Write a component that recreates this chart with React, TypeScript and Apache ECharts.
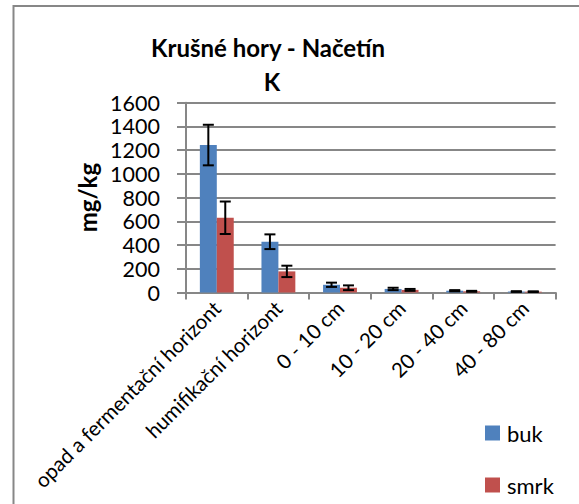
import React, { useEffect, useRef } from "react";
import * as echarts from "echarts";

const categories = [
  "opad a fermentační horizont",
  "humifikační horizont",
  "0 - 10 cm",
  "10 - 20 cm",
  "20 - 40 cm",
  "40 - 80 cm",
];
const bukValues = [1243, 428, 65, 30, 15, 8];
const bukErrors = [171, 62, 18, 10, 5, 3];
const smrkValues = [630, 178, 40, 22, 10, 7];
const smrkErrors = [137, 48, 20, 8, 4, 3];
const yTicks = { min: 0, max: 1600, interval: 200 };
const titleLines = ["Krušné hory - Načetín", "K"];
const yName = "mg/kg";

const FONT = "Lato";
const BLUE = "#4F81BD";
const RED = "#C0504D";
const GRID = "#878787";

const GAP = 0.45;
const barFrac = (1 - GAP) / 2;

function errSeries(name: string, values: number[], errors: number[], dir: number) {
  return {
    type: "custom",
    name: name + "-err",
    silent: true,
    z: 10,
    data: values.map((v, i) => [i, v - errors[i], v + errors[i]]),
    renderItem: (params: any, api: any) => {
      const x = api.value(0);
      const lo = api.coord([x, api.value(1)]);
      const hi = api.coord([x, api.value(2)]);
      const cw = api.size([1, 0])[0];
      const cx = lo[0] + dir * cw * barFrac / 2;
      const cap = 5.5;
      const st = { stroke: "#000", lineWidth: 2 };
      return {
        type: "group",
        children: [
          { type: "line", shape: { x1: cx, y1: lo[1], x2: cx, y2: hi[1] }, style: st },
          { type: "line", shape: { x1: cx - cap, y1: lo[1], x2: cx + cap, y2: lo[1] }, style: st },
          { type: "line", shape: { x1: cx - cap, y1: hi[1], x2: cx + cap, y2: hi[1] }, style: st },
        ],
      };
    },
  };
}

export default function App() {
  const ref = useRef<HTMLDivElement>(null);
  useEffect(() => {
    if (!ref.current) return;
    const chart = echarts.init(ref.current, null, { renderer: "svg" });
    chart.setOption({
      animation: false,
      backgroundColor: "#fff",
      textStyle: { fontFamily: FONT },
      graphic: [
        {
          type: "rect",
          shape: { x: 13.5, y: 6, width: 700, height: 700 },
          style: { fill: "none", stroke: GRID, lineWidth: 2 },
          silent: true,
        },
        {
          type: "text",
          x: 268,
          y: 47,
          style: {
            text: titleLines[0],
            font: `bold 24px ${FONT}`,
            fill: "#000",
            textAlign: "center",
            textVerticalAlign: "middle",
          },
        },
        {
          type: "text",
          x: 272,
          y: 81,
          style: {
            text: titleLines[1],
            font: `bold 24px ${FONT}`,
            fill: "#000",
            textAlign: "center",
            textVerticalAlign: "middle",
          },
        },
      ],
      legend: {
        orient: "vertical",
        left: 480,
        top: 417,
        itemWidth: 15,
        itemHeight: 15,
        itemGap: 30,
        icon: "rect",
        data: ["buk", "smrk"],
        textStyle: { fontFamily: FONT, fontSize: 22, color: "#000", padding: [0, 0, 0, 2] },
      },
      grid: { left: 186, right: 23.4, top: 102.7, bottom: 211.5, containLabel: false },
      xAxis: {
        type: "category",
        data: categories,
        axisLine: { lineStyle: { color: GRID, width: 2 } },
        axisTick: { show: true, length: 7, alignWithLabel: false, lineStyle: { color: GRID, width: 2 } },
        axisLabel: {
          interval: 0,
          rotate: 45,
          margin: 12,
          color: "#000",
          fontFamily: FONT,
          fontSize: 20.5,
        },
      },
      yAxis: {
        type: "value",
        min: yTicks.min,
        max: yTicks.max,
        interval: yTicks.interval,
        name: yName,
        nameLocation: "middle",
        nameRotate: 90,
        nameGap: 72,
        nameTextStyle: { fontFamily: FONT, fontWeight: "bold", fontSize: 24, color: "#000" },
        axisLine: { show: true, lineStyle: { color: GRID, width: 2 } },
        axisTick: { show: true, length: 9, lineStyle: { color: GRID, width: 2 } },
        splitLine: { lineStyle: { color: GRID, width: 2 } },
        axisLabel: {
          margin: 26,
          color: "#000",
          fontFamily: FONT,
          fontSize: 21.5,
          lineHeight: 21,
          formatter: (v: number) => String(v),
        },
      },
      series: [
        {
          type: "bar",
          name: "buk",
          data: bukValues,
          itemStyle: { color: BLUE },
          barGap: "0%",
          barCategoryGap: "45%",
        },
        {
          type: "bar",
          name: "smrk",
          data: smrkValues,
          itemStyle: { color: RED },
          barGap: "0%",
          barCategoryGap: "45%",
        },
        errSeries("buk", bukValues, bukErrors, -1),
        errSeries("smrk", smrkValues, smrkErrors, 1),
      ],
    });
    return () => chart.dispose();
  }, []);
  return (
    <div
      ref={ref}
      style={{ position: "fixed", left: 0, top: 0, width: 579, height: 504 }}
    />
  );
}
